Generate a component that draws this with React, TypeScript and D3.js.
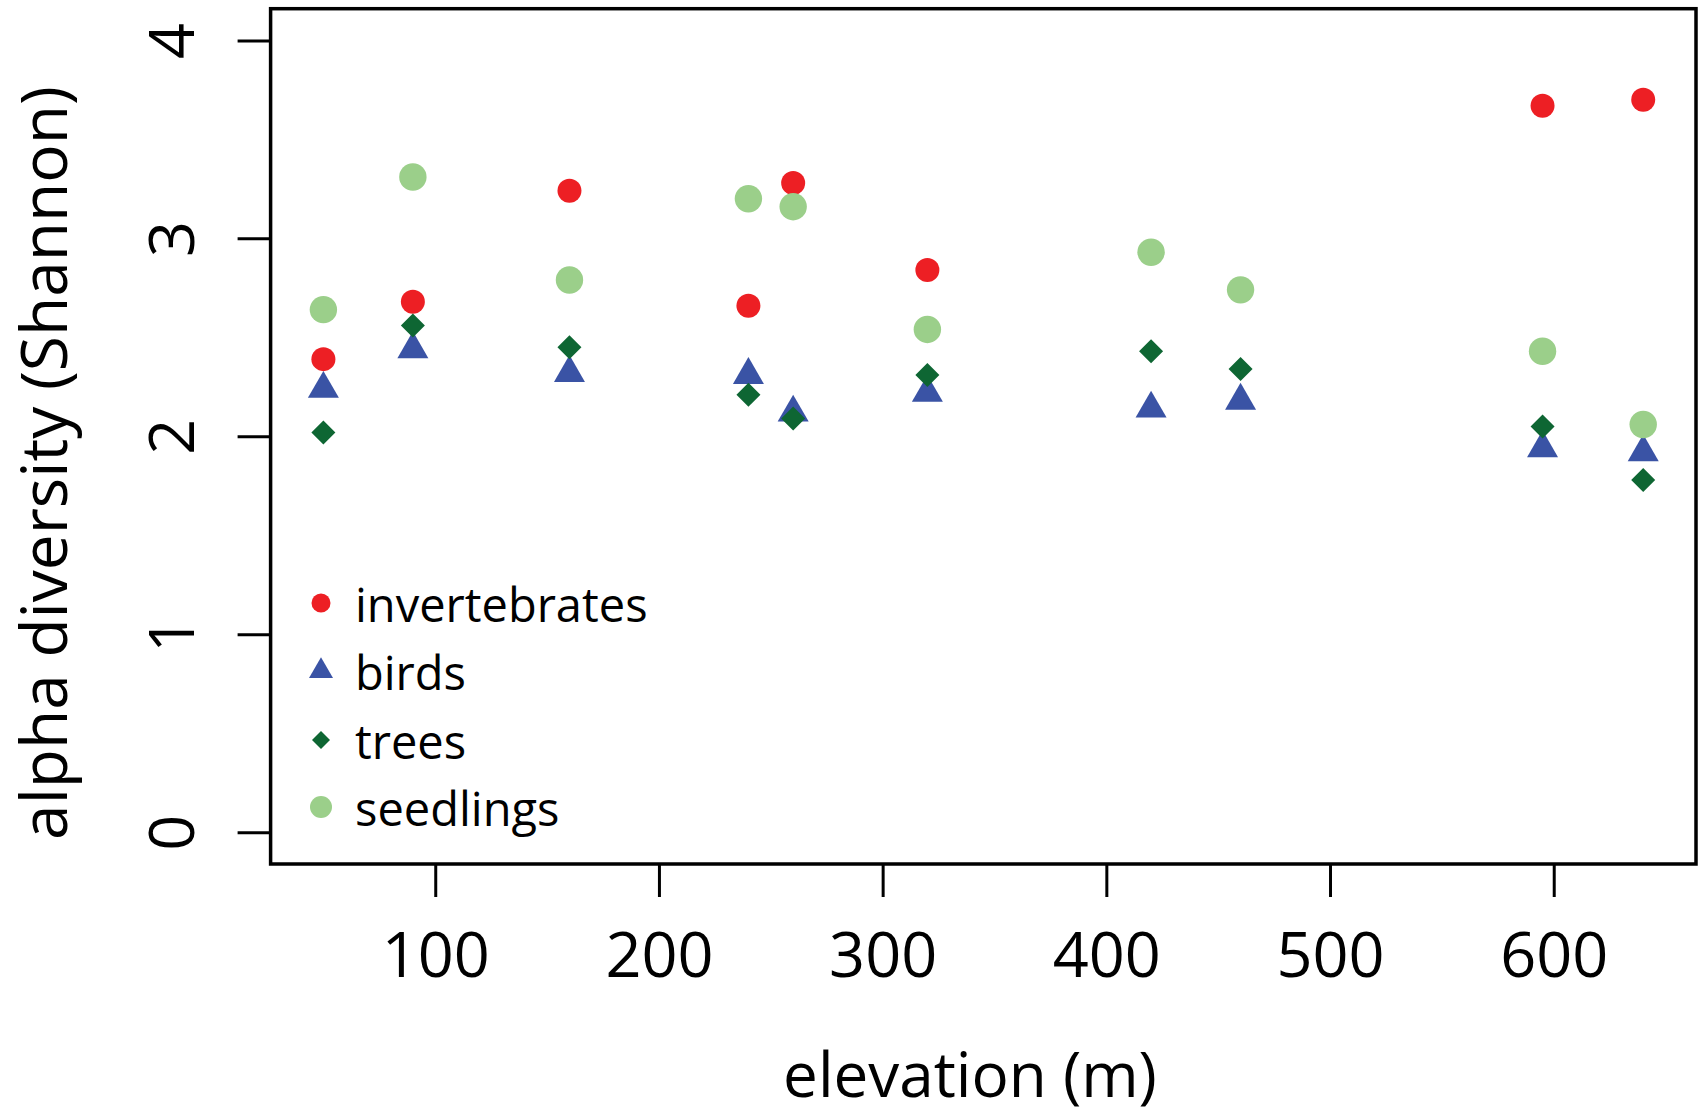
import React, { useEffect, useRef } from 'react';
import * as d3 from 'd3';

// elevation of each plot (m)
const elevation = [50, 90, 160, 240, 260, 320, 420, 460, 595, 640];
// alpha diversity (Shannon) per group, null where the group was not sampled
const invertebrates = [2.39, 2.68, 3.24, 2.66, 3.28, 2.84, null, null, 3.67, 3.70];
const birds = [2.24, 2.44, 2.32, 2.31, 2.12, 2.22, 2.14, 2.18, 1.94, 1.92];
const trees = [2.02, 2.56, 2.45, 2.21, 2.09, 2.31, 2.43, 2.34, 2.05, 1.78];
const seedlings = [2.64, 3.31, 2.79, 3.20, 3.16, 2.54, 2.93, 2.74, 2.43, 2.06];

const groupNames = ['invertebrates', 'birds', 'trees', 'seedlings'];
const xTicks = [100, 200, 300, 400, 500, 600];
const yTicks = [0, 1, 2, 3, 4];

const FONT = '"Open Sans", "Noto Sans", sans-serif';

const App = () => {
  const svgRef = useRef<SVGSVGElement>(null);

  useEffect(() => {
    document.body.style.margin = '0';
    const width = 1704;
    const height = 1117;
    const plot = { left: 270.6, right: 1696, top: 8.7, bottom: 864 };

    const svg = d3.select(svgRef.current)
      .attr('width', width)
      .attr('height', height)
      .style('display', 'block')
      .style('background', '#fff');
    svg.selectAll('*').remove();

    // R style: data range padded by 4% on both sides
    const x = d3.scaleLinear().domain([26.4, 663.6]).range([plot.left, plot.right]);
    const y = d3.scaleLinear().domain([-0.16, 4.16]).range([plot.bottom, plot.top]);

    // bottom axis
    const gx = svg.append('g')
      .attr('transform', `translate(0,${plot.bottom})`)
      .call(d3.axisBottom(x).tickValues(xTicks).tickSize(33).tickSizeOuter(0).tickFormat(d3.format('d')));
    gx.select('.domain').remove();
    gx.selectAll('line').attr('stroke', '#000').attr('stroke-width', 3);
    gx.selectAll('text')
      .attr('y', 113)
      .attr('dy', null)
      .attr('fill', '#000')
      .style('font-family', FONT)
      .style('font-size', '63px');

    // left axis, labels parallel to the axis
    const gy = svg.append('g')
      .attr('transform', `translate(${plot.left},0)`)
      .call(d3.axisLeft(y).tickValues(yTicks).tickSize(33).tickSizeOuter(0).tickFormat(d3.format('d')));
    gy.select('.domain').remove();
    gy.selectAll('line').attr('stroke', '#000').attr('stroke-width', 3);
    gy.selectAll('text')
      .attr('x', null)
      .attr('dy', null)
      .attr('text-anchor', 'middle')
      .attr('transform', 'translate(-77,0) rotate(-90)')
      .attr('fill', '#000')
      .style('font-family', FONT)
      .style('font-size', '63px');

    // box
    svg.append('rect')
      .attr('x', plot.left)
      .attr('y', plot.top)
      .attr('width', plot.right - plot.left)
      .attr('height', plot.bottom - plot.top)
      .attr('fill', 'none')
      .attr('stroke', '#000')
      .attr('stroke-width', 3.5);

    // axis titles
    svg.append('text')
      .attr('x', 970)
      .attr('y', 1097)
      .attr('text-anchor', 'middle')
      .style('font-family', FONT)
      .style('font-size', '62px')
      .text('elevation (m)');

    svg.append('text')
      .attr('transform', 'translate(67,463) rotate(-90)')
      .attr('text-anchor', 'middle')
      .style('font-family', FONT)
      .style('font-size', '64px')
      .text('alpha diversity (Shannon)');

    const series = [
      { name: 'invertebrates', values: invertebrates, shape: 'circle', color: '#ED1F24', size: 12, legendSize: 9.5 },
      { name: 'birds', values: birds, shape: 'triangle', color: '#3A53A5', size: 31, legendSize: 24 },
      { name: 'trees', values: trees, shape: 'diamond', color: '#0E6633', size: 12, legendSize: 9 },
      { name: 'seedlings', values: seedlings, shape: 'circle', color: '#9BCF8A', size: 13.7, legendSize: 11 },
    ];

    const markerPath = (shape, s) => {
      if (shape === 'triangle') {
        return d3.symbol(d3.symbolTriangle, (Math.sqrt(3) / 4) * s * s)();
      }
      if (shape === 'diamond') {
        // square turned by 45 degrees, s is the half diagonal
        return d3.symbol(d3.symbolSquare, 2 * s * s)();
      }
      return d3.symbol(d3.symbolCircle, Math.PI * s * s)();
    };

    series.forEach(s => {
      const pts = elevation
        .map((e, i) => ({ e, v: s.values[i] }))
        .filter(d => d.v != null);
      svg.append('g')
        .selectAll('path')
        .data(pts)
        .enter()
        .append('path')
        .attr('d', markerPath(s.shape, s.size))
        .attr('fill', s.color)
        .attr('transform', d => `translate(${x(d.e)},${y(d.v)})${s.shape === 'diamond' ? ' rotate(45)' : ''}`);
    });

    // legend
    const legend = svg.append('g').attr('transform', 'translate(321,0)');
    const rowY = [603, 671, 740, 807];
    series.forEach((s, i) => {
      legend.append('path')
        .attr('d', markerPath(s.shape, s.legendSize))
        .attr('fill', s.color)
        .attr('transform', `translate(0,${rowY[i]})${s.shape === 'diamond' ? ' rotate(45)' : ''}`);
      legend.append('text')
        .attr('x', 34)
        .attr('y', rowY[i] + 19)
        .style('font-family', FONT)
        .style('font-size', '47px')
        .text(groupNames[i]);
    });
  }, []);

  return <svg ref={svgRef}></svg>;
};

export default App;
